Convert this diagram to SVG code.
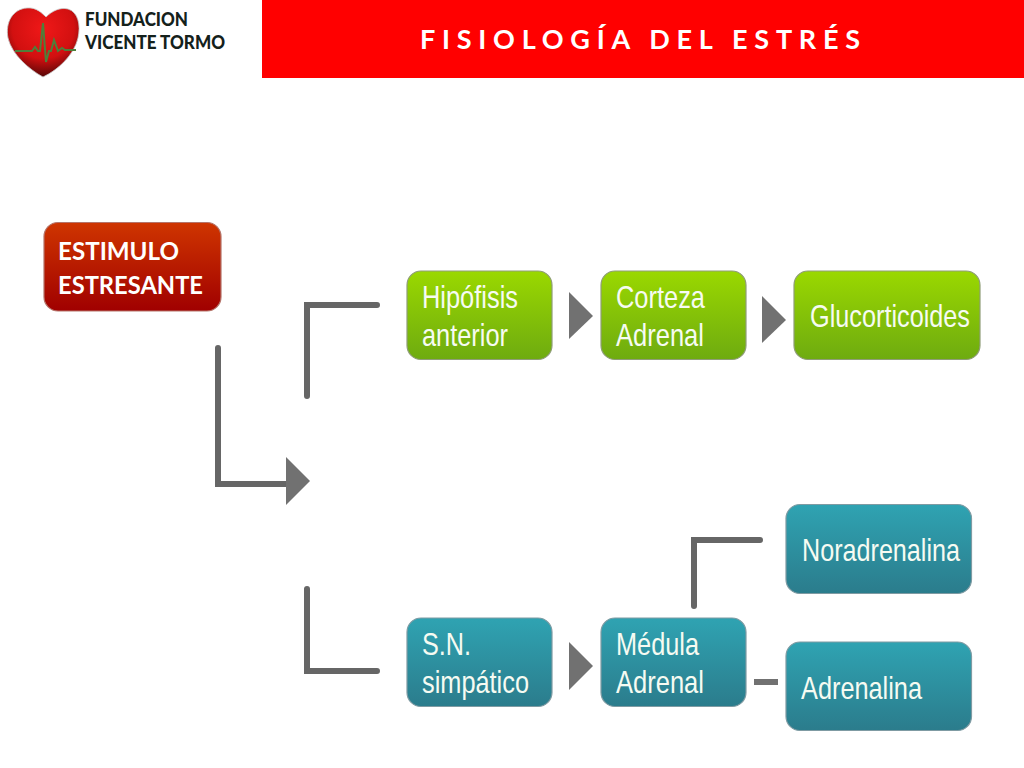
<svg xmlns="http://www.w3.org/2000/svg" width="1024" height="768" viewBox="0 0 1024 768">
<style>
.n{stroke-width:1.2}
.g{fill:url(#green);stroke:#8f9d78}
.t{fill:url(#teal);stroke:#7f9ba3}
.l{font-family:"Liberation Sans",Arial,sans-serif;font-size:30.500px;fill:#f6fbf2}
.b{font-family:Lato,"Open Sans",sans-serif;font-weight:700;fill:#fff;font-size:24px}
.c{fill:none;stroke:#666;stroke-width:6;stroke-linecap:round;stroke-linejoin:miter}
.a{fill:#717171;stroke:none}
</style>
<defs>
<linearGradient id="green" x1="0" y1="0" x2="0" y2="1"><stop offset="0" stop-color="#9ad800"/><stop offset="1" stop-color="#6eab10"/></linearGradient>
<linearGradient id="teal" x1="0" y1="0" x2="0" y2="1"><stop offset="0" stop-color="#2fa3b2"/><stop offset="1" stop-color="#2b7c8c"/></linearGradient>
<linearGradient id="redg" x1="0" y1="0" x2="0" y2="1"><stop offset="0" stop-color="#cf3500"/><stop offset="1" stop-color="#a00000"/></linearGradient>
<radialGradient id="heart" cx="0.5" cy="0.3" r="0.72"><stop offset="0" stop-color="#f01818"/><stop offset="0.6" stop-color="#d21010"/><stop offset="1" stop-color="#4d0505"/></radialGradient>
</defs>
<rect width="1024" height="768" fill="#fff"/>
<rect x="262" y="0" width="762" height="78" fill="#ff0000"/>
<text x="420" y="49" font-family="Lato,'Open Sans',sans-serif" font-weight="700" font-size="27" textLength="440" fill="#fff">FISIOLOGÍA DEL ESTRÉS</text>
<g id="logo">
<path d="M43 77C30 70 12 55 8 38C5 22 13 9 27 8C36 7 42 13 46 17C52 11 60 7 68 9C78 12 81 25 78 38C74 55 58 70 43 77Z" fill="url(#heart)" stroke="#c9c9c9" stroke-width="0.8"/>
<path d="M15 51H32L35 47L38 51H40L43 23L46 62L49 51H51L54 40L58 51L62 48L65 50H76" fill="none" stroke="#4f7f3a" stroke-width="2"/>
<text x="85" y="26" font-family="Lato,'Open Sans',sans-serif" font-weight="900" font-size="19" fill="#14211b" textLength="103" lengthAdjust="spacingAndGlyphs">FUNDACION</text>
<text x="85" y="49" font-family="Lato,'Open Sans',sans-serif" font-weight="900" font-size="19" fill="#14211b" textLength="140" lengthAdjust="spacingAndGlyphs">VICENTE TORMO</text>
</g>
<g id="connectors">
<path class="c" d="M218 348V484H288"/>
<polygon class="a" points="286,457 310,481 286,505"/>
<path class="c" d="M307 396V305H377"/>
<path class="c" d="M307 589V671H377"/>
<polygon class="a" points="569,292 593,316 569,339"/>
<polygon class="a" points="762,296 786,320 762,343"/>
<polygon class="a" points="569,642 593,666 569,690"/>
<path class="c" d="M694 606V540H760"/>
<path d="M754 682H778" fill="none" stroke="#717171" stroke-width="6"/>
</g>
<g id="estimulo">
<rect x="44" y="222.500" width="177" height="88.500" rx="14" fill="url(#redg)" stroke="#b5746a" stroke-width="1.200"/>
<text class="b" x="58" y="260" textLength="121" lengthAdjust="spacingAndGlyphs">ESTIMULO</text>
<text class="b" x="58" y="294" textLength="145" lengthAdjust="spacingAndGlyphs">ESTRESANTE</text>
</g>
<g id="hipofisis">
<rect class="n g" x="407" y="271" width="145" height="88.500" rx="14"/>
<text class="l" x="422" y="308" textLength="96" lengthAdjust="spacingAndGlyphs">Hipófisis</text>
<text class="l" x="422" y="346" textLength="86" lengthAdjust="spacingAndGlyphs">anterior</text>
</g>
<g id="corteza">
<rect class="n g" x="601" y="271" width="145" height="88.500" rx="14"/>
<text class="l" x="616" y="308" textLength="89" lengthAdjust="spacingAndGlyphs">Corteza</text>
<text class="l" x="616" y="346" textLength="88" lengthAdjust="spacingAndGlyphs">Adrenal</text>
</g>
<g id="glucorticoides">
<rect class="n g" x="794" y="271" width="186" height="88.500" rx="14"/>
<text class="l" x="810" y="327" textLength="160" lengthAdjust="spacingAndGlyphs">Glucorticoides</text>
</g>
<g id="noradrenalina">
<rect class="n t" x="786" y="504.500" width="185.500" height="89" rx="14"/>
<text class="l" x="802" y="561" textLength="158" lengthAdjust="spacingAndGlyphs">Noradrenalina</text>
</g>
<g id="adrenalina">
<rect class="n t" x="786" y="642" width="185.500" height="88.500" rx="14"/>
<text class="l" x="801" y="699" textLength="121" lengthAdjust="spacingAndGlyphs">Adrenalina</text>
</g>
<g id="sn">
<rect class="n t" x="407" y="618" width="145" height="88.500" rx="14"/>
<text class="l" x="422" y="655" textLength="49" lengthAdjust="spacingAndGlyphs">S.N.</text>
<text class="l" x="422" y="693" textLength="107" lengthAdjust="spacingAndGlyphs">simpático</text>
</g>
<g id="medula">
<rect class="n t" x="601" y="618" width="145" height="88.500" rx="14"/>
<text class="l" x="616" y="655" textLength="83" lengthAdjust="spacingAndGlyphs">Médula</text>
<text class="l" x="616" y="693" textLength="88" lengthAdjust="spacingAndGlyphs">Adrenal</text>
</g>
</svg>
